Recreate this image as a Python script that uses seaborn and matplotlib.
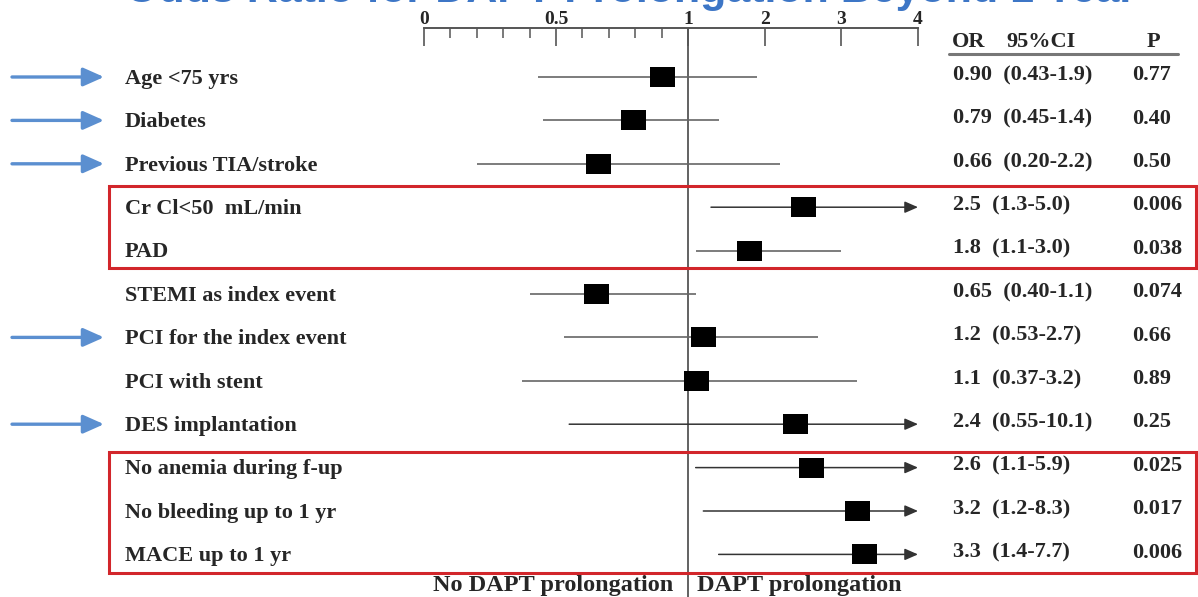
#!/usr/bin/env python3
"""Forest plot: odds ratio for DAPT prolongation."""

import numpy as np
import pandas as pd
import matplotlib
matplotlib.use("Agg")
import matplotlib.pyplot as plt
import seaborn as sns
from matplotlib.transforms import blended_transform_factory
from matplotlib.patches import Rectangle
from matplotlib.lines import Line2D
from matplotlib.markers import MarkerStyle

# --- data -------------------------------------------------------------
labels = ["Age <75 yrs", "Diabetes", "Previous TIA/stroke", "Cr Cl<50  mL/min",
          "PAD", "STEMI as index event", "PCI for the index event",
          "PCI with stent", "DES implantation", "No anemia during f-up",
          "No bleeding up to 1 yr", "MACE up to 1 yr"]
odds = [0.90, 0.79, 0.66, 2.5, 1.8, 0.65, 1.2, 1.1, 2.4, 2.6, 3.2, 3.3]
ci_low = [0.43, 0.45, 0.20, 1.3, 1.1, 0.40, 0.53, 0.37, 0.55, 1.1, 1.2, 1.4]
ci_high = [1.9, 1.4, 2.2, 5.0, 3.0, 1.1, 2.7, 3.2, 10.1, 5.9, 8.3, 7.7]
or_text = ["0.90", "0.79", "0.66", "2.5", "1.8", "0.65", "1.2", "1.1", "2.4",
           "2.6", "3.2", "3.3"]
ci_text = ["0.43-1.9", "0.45-1.4", "0.20-2.2", "1.3-5.0", "1.1-3.0", "0.40-1.1",
           "0.53-2.7", "0.37-3.2", "0.55-10.1", "1.1-5.9", "1.2-8.3", "1.4-7.7"]
p_text = ["0.77", "0.40", "0.50", "0.006", "0.038", "0.074", "0.66", "0.89",
          "0.25", "0.025", "0.017", "0.006"]
highlighted = ["Age <75 yrs", "Diabetes", "Previous TIA/stroke",
               "PCI for the index event", "DES implantation"]
major_ticks = [0, 0.5, 1, 2, 3, 4]
major_labels = ["0", "0.5", "1", "2", "3", "4"]
minor_ticks = [0.1, 0.2, 0.3, 0.4, 0.6, 0.7, 0.8, 0.9]

W, H = 1198, 597
ROW0, ROW_H = 77, 43.4        # pixel centre of first row, row spacing
RIGHT_STEP = 76.67 / 264      # width of one unit above 1, relative to 0..1
BOXES = [(186, 268), (452, 573)]  # red frames, top/bottom in pixels


def fx(px):
    return px / W


def fy(px):
    return 1 - px / H


def fwd(x):
    x = np.asarray(x, dtype=float)
    return np.where(x <= 1, x, 1 + (x - 1) * RIGHT_STEP)


def inv(y):
    y = np.asarray(y, dtype=float)
    return np.where(y <= 1, y, 1 + (y - 1) / RIGHT_STEP)


sns.set_style("white")
plt.rcParams["font.family"] = ["Liberation Serif", "DejaVu Serif"]
plt.rcParams["font.weight"] = "bold"

fig = plt.figure(figsize=(W / 100, H / 100), dpi=100)
ax = fig.add_axes([fx(424), 0, fx(918) - fx(424), fy(28)])
ax.set_xscale("function", functions=(fwd, inv))
ax.set_xlim(0, 4)
ax.set_ylim((H - ROW0) / ROW_H, (28 - ROW0) / ROW_H)

rows = np.arange(len(labels))
df = pd.DataFrame({"label": labels, "odds": odds, "row": rows,
                   "lo": ci_low, "hi": ci_high})

# axis at the top
for side in ["left", "right", "bottom"]:
    ax.spines[side].set_visible(False)
ax.spines["top"].set_color("#555555")
ax.spines["top"].set_linewidth(1.4)
ax.xaxis.tick_top()
ax.set_xticks(major_ticks)
ax.set_xticklabels(major_labels)
ax.set_xticks(minor_ticks, minor=True)
ax.tick_params(axis="x", which="major", direction="in", length=13, width=1.2,
               color="#555555", labelsize=14, pad=0)
ax.tick_params(axis="x", which="minor", direction="in", length=7, width=1.1,
               color="#555555")
ax.set_yticks([])

ax.axvline(1, color="#555555", lw=1.3, zorder=1)

# confidence intervals
for _, r in df.iterrows():
    if r["hi"] > 4:
        ax.annotate("", xy=(4, r["row"]), xytext=(r["lo"], r["row"]),
                    arrowprops=dict(arrowstyle="-|>,head_length=0.8,head_width=0.35",
                                    color="#333333", lw=1.1, mutation_scale=10,
                                    shrinkA=0, shrinkB=0),
                    annotation_clip=False, zorder=2)
    else:
        ax.hlines(r["row"], r["lo"], r["hi"], color="#666666", lw=1.2, zorder=2)

rect = MarkerStyle([(-1.25, -1), (1.25, -1), (1.25, 1), (-1.25, 1), (-1.25, -1)])
sns.scatterplot(data=df, x="odds", y="row", marker=rect, s=324, color="black",
                edgecolor="black", linewidth=0, zorder=3, legend=False, ax=ax)
ax.set_xlabel("")
ax.set_ylabel("")

trans = blended_transform_factory(fig.transFigure, ax.transData)

# row labels, blue arrows and table
for i, lab in enumerate(labels):
    ax.text(fx(125), i + 0.04, lab, transform=trans, ha="left", va="center",
            fontsize=16)
    if lab in highlighted:
        ax.annotate("", xy=(fx(104), i), xycoords=trans,
                    xytext=(fx(12), i), textcoords=trans,
                    arrowprops=dict(arrowstyle="-|>,head_length=0.9,head_width=0.4",
                                    color="#5b8fd0", lw=2.4, mutation_scale=14,
                                    shrinkA=0, shrinkB=0))
    ax.text(fx(953), i - 0.04, f"{or_text[i]}  ({ci_text[i]})", transform=trans,
            ha="left", va="center", fontsize=16)
    ax.text(fx(1132), i - 0.04, p_text[i], transform=trans,
            ha="left", va="center", fontsize=16)

# table header
fig.text(fx(952), fy(42), "OR", ha="left", va="center", fontsize=16)
fig.text(fx(1006), fy(42), "95%CI", ha="left", va="center", fontsize=16)
fig.text(fx(1153), fy(42), "P", ha="center", va="center", fontsize=16)
fig.add_artist(Line2D([fx(949), fx(1178)], [fy(54), fy(54)], color="#777777",
                      lw=2.2))

# red frames around the significant groups
for top, bottom in BOXES:
    fig.add_artist(Rectangle((fx(109), fy(bottom)), fx(1196) - fx(109),
                             fy(top) - fy(bottom), fill=False,
                             edgecolor="#d2262b", lw=2.2))

# direction labels
fig.text(fx(673), fy(585), "No DAPT prolongation", ha="right", va="center",
         fontsize=17.5)
fig.text(fx(697), fy(585), "DAPT prolongation", ha="left", va="center",
         fontsize=17.5)

# title, mostly cut off at the top edge as in the source slide
fig.text(fx(125), fy(2), "Odds Ratio for DAPT Prolongation Beyond 1 Year",
         ha="left", va="baseline", fontsize=31, color="#3d76c6",
         family=["Liberation Sans", "DejaVu Sans"], weight="bold")

fig.savefig("out.png", dpi=100)
